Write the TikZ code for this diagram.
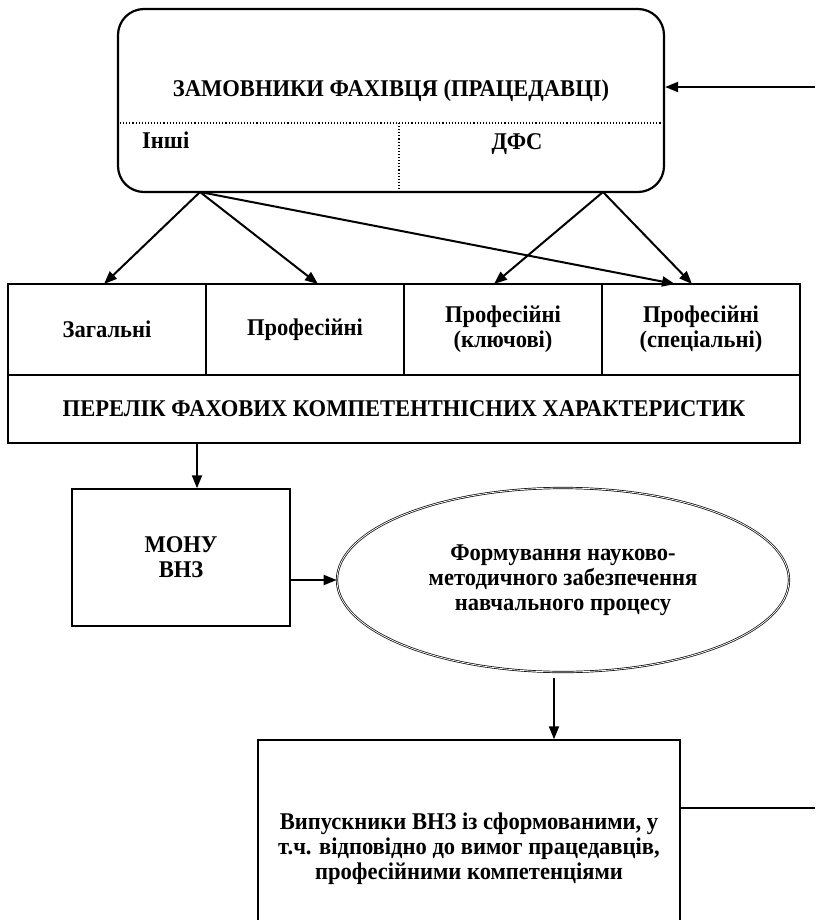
\documentclass[tikz,border=0pt]{standalone}
\usepackage{fontspec}
\setmainfont{Liberation Serif}[FakeStretch=0.94]
\usetikzlibrary{shapes.geometric,arrows.meta}

\begin{document}
\begin{tikzpicture}[x=1pt, y=-1pt,
    font=\bfseries\fontsize{24}{25}\selectfont,
    arr/.style={line width=2pt, -{Triangle[length=13pt,width=10pt]}},
    box/.style={draw, line width=1.5pt, inner sep=0pt, align=center},
    txt/.style={align=center, inner sep=0pt}]
    \useasboundingbox (0,0) rectangle (815,920);
    % Employers
    \node[box, line width=2.2pt, rounded corners=26pt, minimum width=546pt, minimum height=183pt] (zam) at (391,100.5) {};
    \node[txt] (zamtxt) at (391,91) {ЗАМОВНИКИ ФАХІВЦЯ (ПРАЦЕДАВЦІ)};
    \coordinate (split) at (399,123);
    \draw[dotted, line width=1.1pt] (zam.west |- split) -- (zam.east |- split);
    \draw[dotted, line width=1.1pt] (split) -- (split |- zam.south);
    \node[txt, anchor=base west] (inshi) at (142,149) {Інші};
    \node[txt, anchor=base] (dfs) at (517,150) {ДФС};
    \coordinate (inflow) at (815,87);
    \draw[arr] (inflow) -- (zam.east |- inflow);
    % Competencies
    \node[box, minimum width=198pt, minimum height=91pt] (gen) at (107,329.5) {Загальні};
    \node[box, minimum width=198pt, minimum height=91pt] (prof) at (305,329.5) {Професійні};
    \node[box, minimum width=198pt, minimum height=91pt] (key) at (503,329.5) {Професійні\\(ключові)};
    \node[box, minimum width=198pt, minimum height=91pt] (spec) at (701,329.5) {Професійні\\(спеціальні)};
    \node[box, minimum width=792pt, minimum height=68pt] (list) at (404,409) {ПЕРЕЛІК ФАХОВИХ КОМПЕТЕНТНІСНИХ ХАРАКТЕРИСТИК};
    % Links to competencies
    \coordinate (zl) at (200,192);
    \coordinate (zr) at (603,192);
    \coordinate (t1) at (104,284);
    \coordinate (t2) at (318,284);
    \coordinate (t3) at (494,284);
    \coordinate (t4) at (675,284);
    \coordinate (t5) at (692,284);
    \draw[arr] (zl) -- (t1);
    \draw[arr] (zl) -- (t2);
    \draw[arr] (zl) -- (t4);
    \draw[arr] (zr) -- (t3);
    \draw[arr] (zr) -- (t5);
    % MONU
    \node[box, minimum width=218pt, minimum height=137pt] (monu) at (181,557.5) {МОНУ\\ВНЗ};
    \coordinate (m0) at (197,443);
    \draw[arr] (m0) -- (m0 |- monu.north);
    % Methodical support
    \node[draw, ellipse, double, double distance=0.8pt, line width=0.7pt, align=center, inner sep=0pt,
        minimum width=452pt, minimum height=184pt] (form) at (563,580)
        {Формування науково-\\методичного забезпечення\\навчального процесу};
    \draw[arr] (monu.east |- form.west) -- (form.west);
    % Graduates
    \node[box, minimum width=422pt, minimum height=200pt] (vyp) at (469,840) {};
    \node[txt] (vyptxt) at (469,849) {Випускники ВНЗ із сформованими, у\\т.ч. відповідно до вимог працедавців,\\професійними компетенціями};
    \coordinate (f0) at (554,678);
    \draw[arr] (f0) -- (f0 |- vyp.north);
    \coordinate (outflow) at (815,808);
    \draw[line width=2pt] (vyp.east |- outflow) -- (outflow);
\end{tikzpicture}
\end{document}
